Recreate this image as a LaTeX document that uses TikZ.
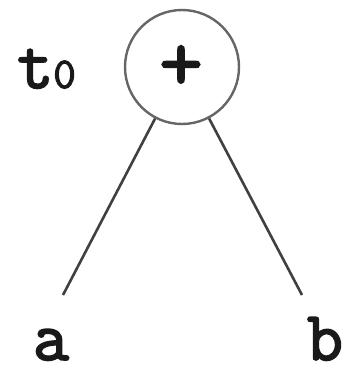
\documentclass[tikz,border=0pt]{standalone}
\usepackage{fontspec}
\setmonofont{Latin Modern Mono}[AutoFakeBold=2.5]
\begin{document}
\begin{tikzpicture}[x=1pt,y=-1pt,
  lbl/.style={font=\ttfamily\bfseries\fontsize{70}{70}\selectfont, inner sep=0pt, text=black!90},
  opnode/.style={circle, draw=black!60, line width=2.4pt, minimum size=114pt, inner sep=0pt},
  edge/.style={draw=black!75, line width=2.6pt}]
\useasboundingbox (0,0) rectangle (348,378);
\node[opnode] (plus) at (182,67) {};
\node[font=\ttfamily\bfseries\fontsize{84}{84}\selectfont, text=black!90] (plussign) at (181,68) {+};
\node[lbl, anchor=base west] (t0) at (17,88) {t{\fontsize{44}{44}\selectfont 0}};
\node[lbl, anchor=base] (a) at (51,360) {a};
\node[lbl, anchor=base] (b) at (325,360) {b};
\coordinate (ea) at (63,295);
\coordinate (eb) at (302,295);
\draw[edge] (plus) -- (ea);
\draw[edge] (plus) -- (eb);
\end{tikzpicture}
\end{document}
